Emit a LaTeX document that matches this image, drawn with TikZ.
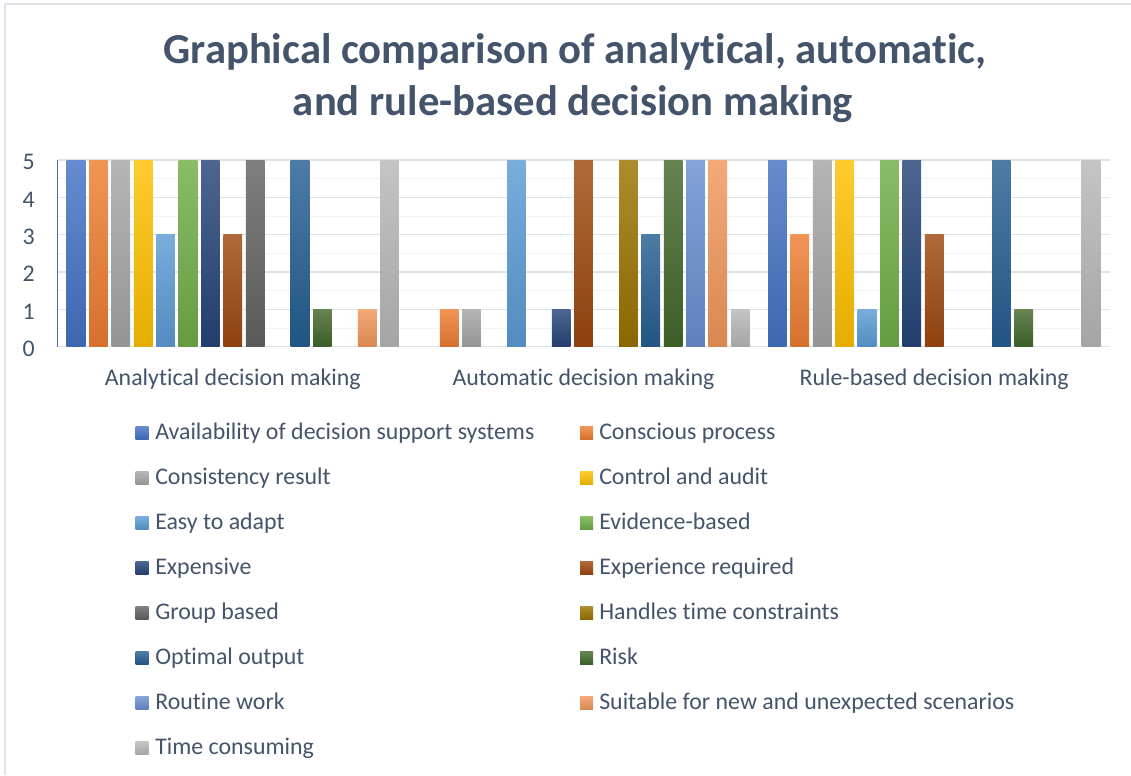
\documentclass[tikz,border=0pt]{standalone}
\usepackage{fontspec}
\setmainfont[Ligatures=NoCommon]{Carlito}
\usepackage{tikz}
\usepackage{xcolor}

\definecolor{titletext}{HTML}{44546A}
\definecolor{frameline}{HTML}{DEE3EA}
\definecolor{majorline}{HTML}{DCE2EA}
\definecolor{minorline}{HTML}{F1F3F5}
\definecolor{availC}{HTML}{4472C4}
\definecolor{consciousC}{HTML}{ED7D31}
\definecolor{consistC}{HTML}{A5A5A5}
\definecolor{controlC}{HTML}{FFC000}
\definecolor{easyC}{HTML}{5B9BD5}
\definecolor{evidenceC}{HTML}{70AD47}
\definecolor{expensiveC}{HTML}{264478}
\definecolor{experienceC}{HTML}{9E480E}
\definecolor{groupC}{HTML}{636363}
\definecolor{handlesC}{HTML}{997300}
\definecolor{optimalC}{HTML}{255E91}
\definecolor{riskC}{HTML}{43682B}
\definecolor{routineC}{HTML}{698ED0}
\definecolor{suitableC}{HTML}{F1975A}
\definecolor{timeC}{HTML}{B7B7B7}

\begin{document}
\begin{tikzpicture}[x=0.75pt, y=-0.75pt,
    bar/.style={top color=#1!82!white, bottom color=#1!90!black},
    majorgrid/.style={majorline, line width=1.1pt},
    minorgrid/.style={minorline, line width=0.8pt},
    titlelabel/.style={inner sep=0, anchor=base, text=titletext, font=\bfseries\fontsize{32}{38}\selectfont},
    axislabel/.style={inner sep=0, text=titletext, font=\fontsize{17.9}{21}\selectfont},
    legendlabel/.style={inner sep=0, anchor=base west, text=titletext, font=\fontsize{17.9}{21}\selectfont}]
    \fill[white] (0,0) rectangle (1131,775);
    \useasboundingbox (0,0) rectangle (1131,775);
    \draw[frameline, line width=1.5pt] (5,775) -- (5,4) -- (1131,4);

    % title
    \node[titlelabel] (title1) at (575,63.3) {Graphical comparison of analytical, automatic,};
    \node[titlelabel] (title2) at (573,115) {and rule-based decision making};

    % grid and value axis
    \foreach \k in {0.5,1.5,...,4.5}
        \draw[minorgrid] (57.5,{346.7-37.33*\k}) -- (1109.6,{346.7-37.33*\k});
    \foreach \k in {0,...,5} {
        \draw[majorgrid] (57.5,{346.7-37.33*\k}) -- (1109.6,{346.7-37.33*\k});
        \node[axislabel, anchor=east] (tick\k) at (35,{348.7-37.33*\k}) {\k};
    }
    \draw[availC, line width=1.1pt] (57.5,160) -- (57.5,346.7);

    % bars: colour / analytical / automatic / rule-based
    \foreach \col/\a/\b/\r [count=\i from 0] in {availC/5/0/5, consciousC/5/1/3,
        consistC/5/1/5, controlC/5/0/5, easyC/3/5/1, evidenceC/5/0/5,
        expensiveC/5/1/5, experienceC/3/5/3, groupC/5/0/0, handlesC/0/5/0,
        optimalC/5/3/5, riskC/1/5/1, routineC/0/5/0, suitableC/1/5/0, timeC/5/1/5}
        \foreach \v [count=\j from 0] in {\a,\b,\r} {
            \ifnum\v>0
                \shade[bar=\col] ({66.7+350.7*\j+22.4*\i},346.7) rectangle ++(18.6,{-37.33*\v});
            \fi
        }

    % category labels
    \foreach \name [count=\j from 0] in {Analytical decision making,
        Automatic decision making, Rule-based decision making}
        \node[axislabel, anchor=base] (cat\j) at ({232.8+350.7*\j},385) {\name};

    % legend
    \foreach \col/\txt [count=\i from 0] in {availC/Availability of decision support systems,
        consciousC/Conscious process, consistC/Consistency result, controlC/Control and audit,
        easyC/Easy to adapt, evidenceC/Evidence-based, expensiveC/Expensive,
        experienceC/Experience required, groupC/Group based, handlesC/Handles time constraints,
        optimalC/Optimal output, riskC/Risk, routineC/Routine work,
        suitableC/Suitable for new and unexpected scenarios, timeC/Time consuming} {
        \pgfmathtruncatemacro\row{\i/2}
        \pgfmathtruncatemacro\side{mod(\i,2)}
        \shade[bar=\col] ({135.5+444.5*\side},{439.3+45*\row}) rectangle ++(13,-12.5);
        \node[legendlabel] (key\i) at ({155+444*\side},{439.3+45*\row}) {\txt};
    }
\end{tikzpicture}
\end{document}
